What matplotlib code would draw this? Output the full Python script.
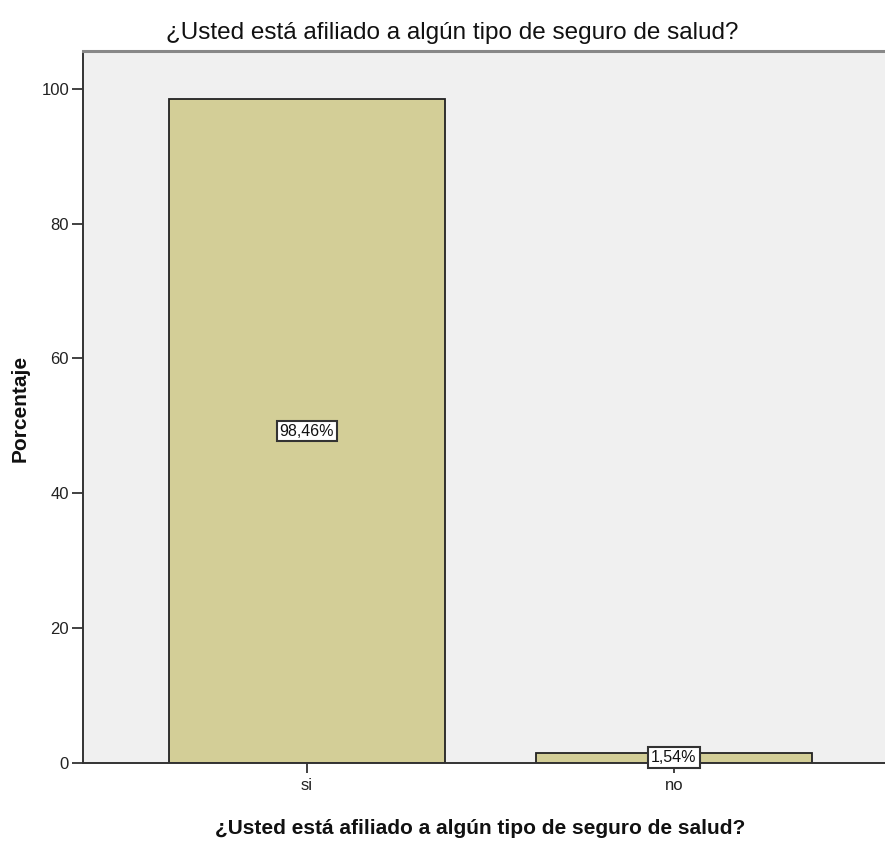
import matplotlib
matplotlib.use("Agg")
import matplotlib.pyplot as plt
from matplotlib import font_manager

categories = ["si", "no"]
values = [98.46, 1.54]
labels = ["98,46%", "1,54%"]
yticks = [0, 20, 40, 60, 80, 100]
title = "¿Usted está afiliado a algún tipo de seguro de salud?"

names = {f.name for f in font_manager.fontManager.ttflist}
fam = ["Liberation Sans Narrow", "Liberation Sans", "DejaVu Sans"]
fam = [f for f in fam if f in names] or ["DejaVu Sans"]
plt.rcParams["font.family"] = fam

W, H = 885, 842
fig = plt.figure(figsize=(W / 100, H / 100), dpi=100)
left, right, bottom, top = 83, 885, 763, 51
ax = fig.add_axes([left / W, 1 - bottom / H, (right - left) / W, (bottom - top) / H])
ax.set_facecolor("#F0F0F0")

x = list(range(len(categories)))
ax.bar(x, values, width=0.75, color="#D3CE97", edgecolor="#222222", linewidth=1.3, zorder=2)
for xi, v, lab in zip(x, values, labels):
    ax.text(xi, v / 2, lab, ha="center", va="center", fontsize=11.5, color="#111111", zorder=3,
            bbox=dict(boxstyle="square,pad=0.18", facecolor="white", edgecolor="#333333", linewidth=1.5))

ax.set_xlim(-0.61, 1.575)
ax.set_ylim(0, 105.6)
ax.set_xticks(x)
ax.set_xticklabels(categories, fontsize=12, color="#222222")
ax.set_yticks(yticks)
ax.set_yticklabels([str(t) for t in yticks], fontsize=12, color="#222222")
ax.tick_params(axis="both", direction="out", length=8, width=1.3, color="#333333", pad=2)
ax.tick_params(axis="x", length=7.5, pad=3)

for s in ["left", "bottom"]:
    ax.spines[s].set_color("#333333")
    ax.spines[s].set_linewidth(1.4)
ax.spines["top"].set_color("#888888")
ax.spines["top"].set_linewidth(2.2)
ax.spines["right"].set_visible(False)

fig.text(452 / W, 1 - 33 / H, title, ha="center", va="center", fontsize=17.5, color="#111111")
fig.text(480 / W, 1 - 828 / H, title, ha="center", va="center", fontsize=15, fontweight="bold", color="#111111")
fig.text(20 / W, 1 - 408 / H, "Porcentaje", ha="center", va="center", rotation=90, fontsize=15,
         fontweight="bold", color="#111111")

fig.savefig("out.png", dpi=100)
